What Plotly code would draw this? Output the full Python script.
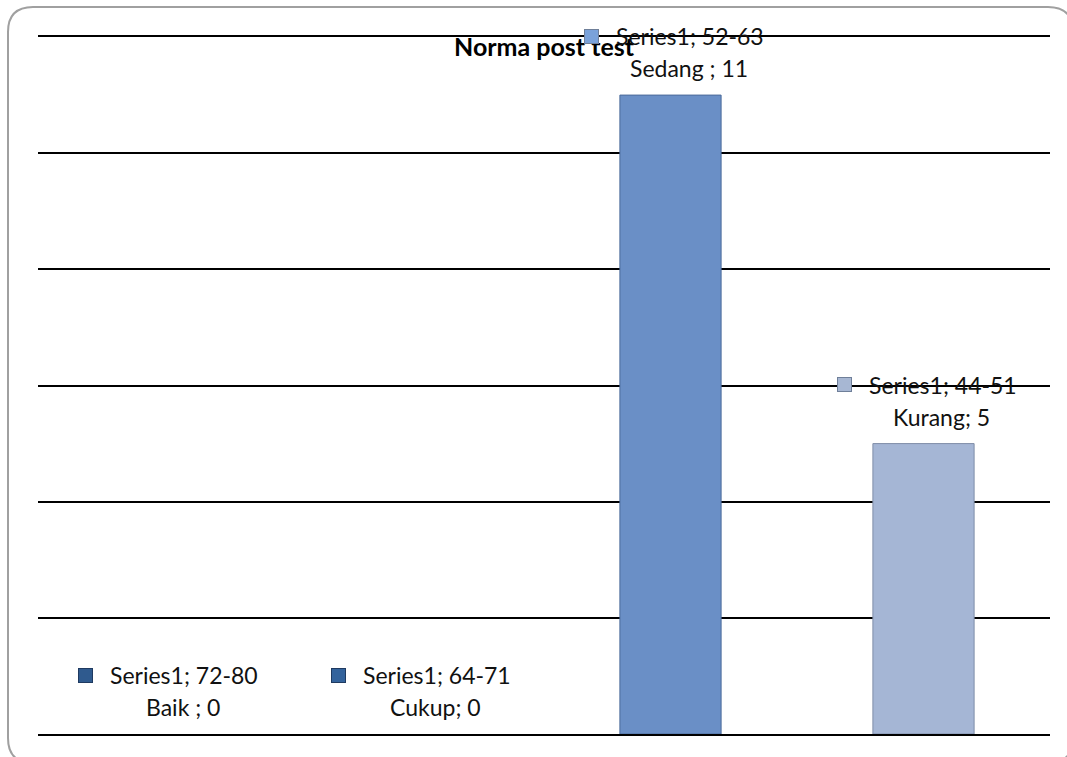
import plotly.graph_objects as go

# ---- data ----
categories = ["72-80", "64-71", "52-63", "44-51"]
grades = ["Baik ", "Cukup", "Sedang ", "Kurang"]
values = [0, 0, 11, 5]
series_name = "Series1"
title_text = "Norma post test"

bar_colors = ["#34609a", "#3e6aa3", "#6a8fc6", "#a5b6d5"]
bar_edges = ["#24456f", "#2a4f7e", "#4a6a9a", "#7f8ea8"]
marker_colors = ["#2f5a8e", "#33639c", "#7aa2da", "#a7b7d3"]

FONT = "Lato"
FS = 23

# layout geometry (pixels)
W, H = 1067, 757
L, R, T, B = 38, 17, 37, 23
pw, ph = W - L - R, H - T - B

fig = go.Figure()
fig.add_trace(go.Bar(
    x=categories, y=values,
    marker=dict(color=bar_colors,
                line=dict(color=bar_edges, width=[0 if v == 0 else 1 for v in values])),
    showlegend=False, hoverinfo="skip",
))

annotations = []
# title
annotations.append(dict(
    text="<b>" + title_text + "</b>", xref="paper", yref="paper",
    x=0.5, y=(H - B - 46) / ph, xanchor="center", yanchor="middle",
    showarrow=False, font=dict(family=FONT, size=25, color="#000000"),
))
for cat, g, v, mc in zip(categories, grades, values, marker_colors):
    # colored square marker
    annotations.append(dict(
        text=" ", x=cat, y=v, xref="x", yref="y", showarrow=False,
        xanchor="center", yanchor="middle", xshift=-79, yshift=59,
        width=13, height=13, bgcolor=mc, bordercolor="#1f3a60" if v == 0 else "#6f7f99",
        borderwidth=1, borderpad=0, font=dict(size=4),
    ))
    annotations.append(dict(
        text=f"{series_name}; {cat}", x=cat, y=v, xref="x", yref="y",
        showarrow=False, xanchor="left", yanchor="middle",
        xshift=-57, yshift=59,
        font=dict(family=FONT, size=FS, color="#111111"),
    ))
    annotations.append(dict(
        text=f"{g}; {v}", x=cat, y=v, xref="x", yref="y",
        showarrow=False, xanchor="center", yanchor="middle",
        xshift=18, yshift=27,
        font=dict(family=FONT, size=FS, color="#111111"),
    ))

# rounded frame (paper coords)
def px2x(px):
    return (px - L) / pw

def py2y(py):
    return (H - B - py) / ph

x0, x1, y0, y1, r = 8, 1073, 7, 763, 25
path = (
    f"M {px2x(x0 + r)},{py2y(y0)} L {px2x(x1 - r)},{py2y(y0)} "
    f"Q {px2x(x1)},{py2y(y0)} {px2x(x1)},{py2y(y0 + r)} "
    f"L {px2x(x1)},{py2y(y1 - r)} Q {px2x(x1)},{py2y(y1)} {px2x(x1 - r)},{py2y(y1)} "
    f"L {px2x(x0 + r)},{py2y(y1)} Q {px2x(x0)},{py2y(y1)} {px2x(x0)},{py2y(y1 - r)} "
    f"L {px2x(x0)},{py2y(y0 + r)} Q {px2x(x0)},{py2y(y0)} {px2x(x0 + r)},{py2y(y0)} Z"
)

fig.update_layout(
    width=W, height=H,
    margin=dict(l=L, r=R, t=T, b=B, pad=0),
    paper_bgcolor="white", plot_bgcolor="white",
    bargap=0.6,
    annotations=annotations,
    shapes=[dict(type="path", path=path, xref="paper", yref="paper",
                 line=dict(color="#a0a0a0", width=2), layer="below")],
    xaxis=dict(showticklabels=False, showgrid=False, zeroline=False,
               showline=True, mirror=True, linecolor="#000000", linewidth=2,
               ticks=""),
    yaxis=dict(range=[0, 12], dtick=2, showticklabels=False, ticks="",
               showgrid=True, gridcolor="#000000", gridwidth=2,
               zeroline=False, showline=False),
    font=dict(family=FONT),
)

fig.write_html("out.html")
